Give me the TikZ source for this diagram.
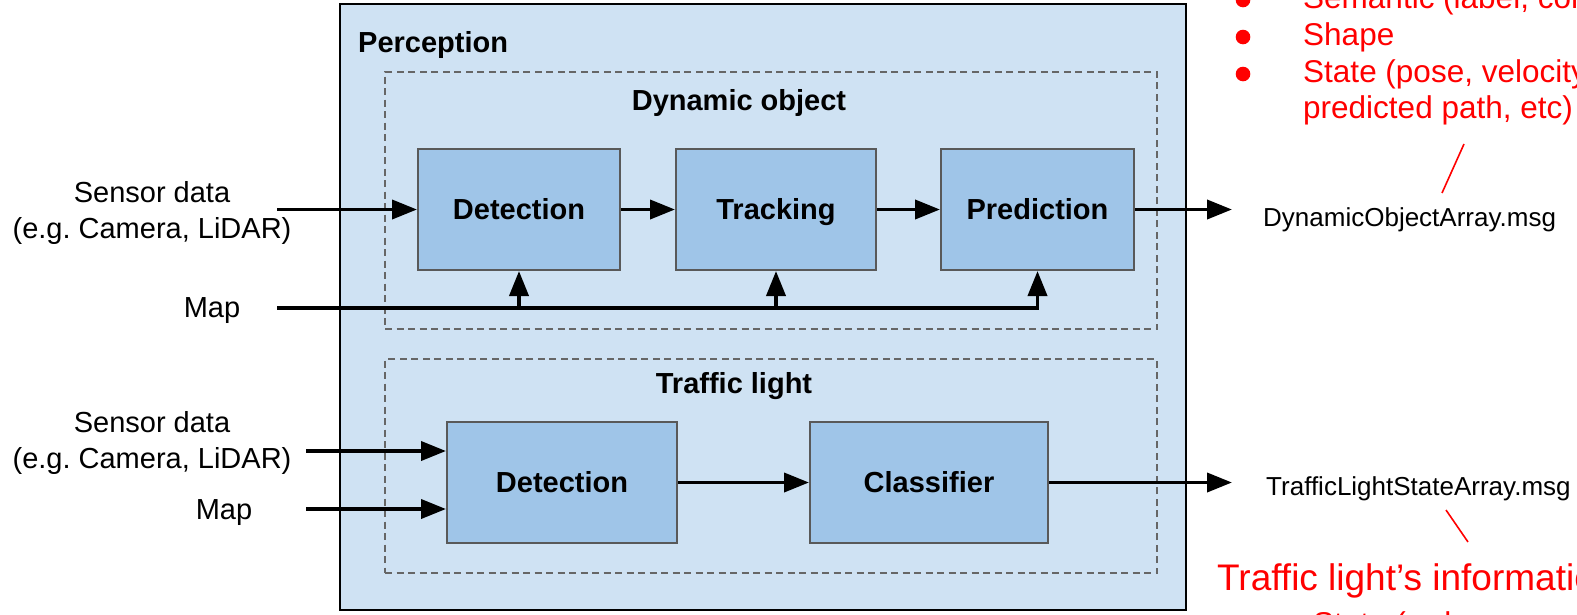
\documentclass[tikz,border=0pt]{standalone}
\usepackage{fontspec}
\setmainfont{Liberation Sans}
\usetikzlibrary{arrows.meta}
\definecolor{outerfill}{HTML}{CFE2F3}
\definecolor{boxfill}{HTML}{9FC5E8}
\definecolor{boxline}{HTML}{595959}
\definecolor{groupline}{HTML}{666666}
\definecolor{notered}{HTML}{FF0000}
\frenchspacing

\begin{document}
\begin{tikzpicture}[x=1pt,y=-1pt,
  container/.style={draw=black, line width=2pt, fill=outerfill, inner sep=0pt},
  group/.style={draw=groupline, dash pattern=on 7pt off 4.5pt, line width=1.6pt, inner sep=0pt},
  stage/.style={draw=boxline, line width=2pt, fill=boxfill, minimum height=121pt, inner sep=0pt,
    text height=21pt, text depth=1pt,
    font=\fontsize{29}{34}\selectfont\bfseries},
  title/.style={font=\fontsize{29}{34}\selectfont\bfseries, inner sep=0pt},
  flow/.style={line width=3.8pt, -{Triangle[length=25pt,width=19pt]}},
  lbl/.style={font=\fontsize{29}{36}\selectfont, align=center, inner sep=0pt},
  msg/.style={font=\fontsize{26}{30}\selectfont, inner sep=0pt, anchor=base west},
  note/.style={text=notered, font=\fontsize{31.5}{37}\selectfont, inner sep=0pt, anchor=base west},
  bignote/.style={text=notered, font=\fontsize{37}{44}\selectfont, inner sep=0pt, anchor=base west},
  pointer/.style={draw=notered, line width=1.6pt},
  dot/.style={fill=notered}]

\useasboundingbox (0,0) rectangle (1577,614);
\clip (0,0) rectangle (1577,614);

% containers
\node[container, minimum width=846pt, minimum height=606pt] (perception) at (763,307) {};
\node[title, anchor=base west] (perlbl) at (358,52) {Perception};

\node[group, minimum width=772pt, minimum height=257pt] (dyngrp) at (771,200.5) {};
\node[title, anchor=base] (dynlbl) at (739,110) {Dynamic object};

\node[group, minimum width=772pt, minimum height=214pt] (tlgrp) at (771,466) {};
\node[title, anchor=base] (tllbl) at (734,393) {Traffic light};

% dynamic object pipeline
\node[stage, minimum width=202pt] (det) at (519,209.5) {Detection};
\node[stage, minimum width=200pt] (trk) at (776,209.5) {Tracking};
\node[stage, minimum width=193pt] (pred) at (1037.5,209.5) {Prediction};

% traffic light pipeline
\node[stage, minimum width=230pt] (tldet) at (562,482.5) {Detection};
\node[stage, minimum width=238pt] (cls) at (929,482.5) {Classifier};

% inputs
\node[lbl] (sens1) at (152,213) {Sensor data\\(e.g. Camera, LiDAR)};
\node[lbl, anchor=base] (map1) at (212,317) {Map};
\node[lbl] (sens2) at (152,443) {Sensor data\\(e.g. Camera, LiDAR)};
\node[lbl, anchor=base] (map2) at (224,519) {Map};

\coordinate (s1) at (277,209.5);
\coordinate (m1) at (277,308);
\coordinate (s2) at (306,451);
\coordinate (m2) at (306,509);

% outputs
\coordinate (dynout) at (1232,209.5);
\coordinate (tlout) at (1232,482.5);
\node[msg] (dynmsg) at (1263,226) {DynamicObjectArray.msg};
\node[msg] (tlmsg) at (1266,495) {TrafficLightStateArray.msg};

% connectors: dynamic object
\draw[flow] (s1) -- (det.west);
\draw[flow] (det) -- (trk);
\draw[flow] (trk) -- (pred);
\draw[flow] (pred) -- (dynout);
\draw[flow] (m1) -- (pred.south |- m1) -- (pred.south);
\draw[flow] (det.south |- m1) -- (det.south);
\draw[flow] (trk.south |- m1) -- (trk.south);

% connectors: traffic light
\draw[flow] (s2) -- (tldet.west |- s2);
\draw[flow] (m2) -- (tldet.west |- m2);
\draw[flow] (tldet) -- (cls);
\draw[flow] (cls) -- (tlout);

% annotations
\fill[dot] (1243,0) circle (7.3pt);
\fill[dot] (1243,37) circle (7.3pt);
\fill[dot] (1243,74) circle (7.3pt);
\node[note] (n1) at (1303,8) {Semantic (label, confidence)};
\node[note] (n2) at (1303,45) {Shape};
\node[note] (n3) at (1303,82) {State (pose, velocity,};
\node[note] (n4) at (1303,118) {predicted path, etc)};
\coordinate (p1a) at (1464,144);
\coordinate (p1b) at (1442,193);
\draw[pointer] (p1a) -- (p1b);

\coordinate (p2a) at (1446,510);
\coordinate (p2b) at (1468,542);
\draw[pointer] (p2a) -- (p2b);
\node[bignote] (tlnote) at (1217,590) {Traffic light’s information};
\node[note] (tlstate) at (1313,634) {State (red, green, yellow)};
\end{tikzpicture}
\end{document}
